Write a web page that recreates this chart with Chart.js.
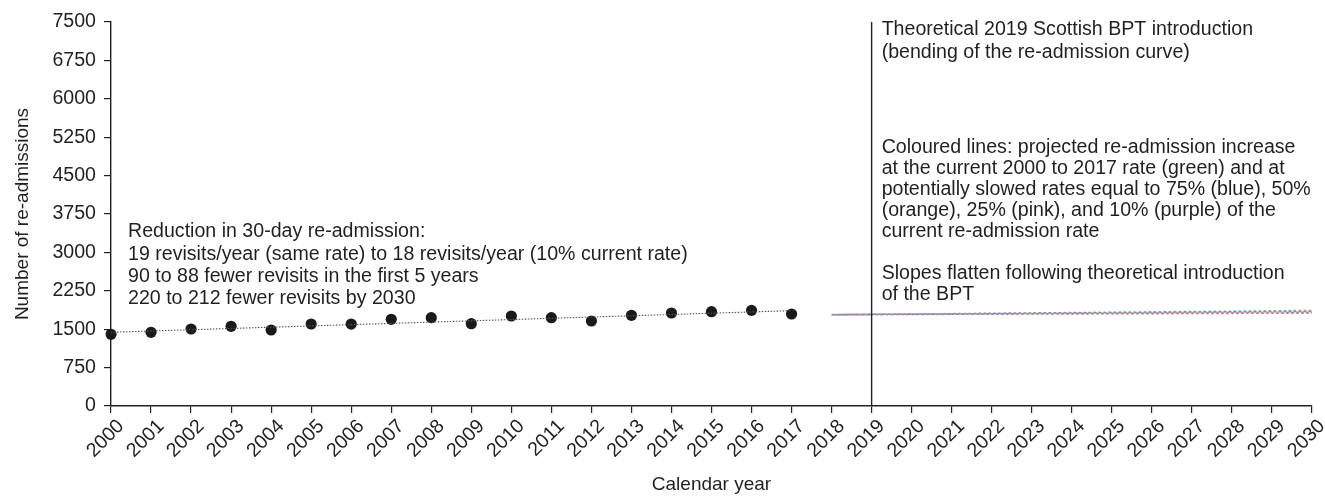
<!DOCTYPE html>
<html>
<head>
<meta charset="utf-8">
<script src="https://cdn.jsdelivr.net/npm/chart.js@4.4.1/dist/chart.umd.min.js"></script>
<style>
  html, body { margin: 0; padding: 0; background: #ffffff; }
  #wrap { width: 1325px; height: 499px; position: relative; }
</style>
</head>
<body>
<div id="wrap"><canvas id="c"></canvas></div>
<script>
// ---- Data ----
const years = ['2000','2001','2002','2003','2004','2005','2006','2007','2008','2009',
               '2010','2011','2012','2013','2014','2015','2016','2017','2018','2019',
               '2020','2021','2022','2023','2024','2025','2026','2027','2028','2029','2030'];
const observed = [1400, 1439, 1504, 1556, 1484, 1602, 1600, 1693, 1725, 1608,
                  1758, 1725, 1660, 1771, 1816, 1842, 1868, 1797];
const trendYears = ['2000', '2017'];
const trendValues = [1440, 1862];
const projYears = ['2018', '2030'];
const projGreen  = [1783, 1866];
const projBlue   = [1783, 1852];
const projOrange = [1786, 1840];
const projPink   = [1783, 1826];
const projPurple = [1783, 1815];
const yTicks = [0, 750, 1500, 2250, 3000, 3750, 4500, 5250, 6000, 6750, 7500];
const interventionYear = '2019';
const leftNote = [
  'Reduction in 30-day re-admission:',
  '19 revisits/year (same rate) to 18 revisits/year (10% current rate)',
  '90 to 88 fewer revisits in the first 5 years',
  '220 to 212 fewer revisits by 2030'
];
const rightNoteTop = [
  'Theoretical 2019 Scottish BPT introduction',
  '(bending of the re-admission curve)'
];
const rightNoteMid = [
  'Coloured lines: projected re-admission increase',
  'at the current 2000 to 2017 rate (green) and at',
  'potentially slowed rates equal to 75% (blue), 50%',
  '(orange), 25% (pink), and 10% (purple) of the',
  'current re-admission rate',
  '',
  'Slopes flatten following theoretical introduction',
  'of the BPT'
];

// ---- helpers to place sparse series on the category axis ----
function sparse(xs, vs) {
  const out = years.map(() => null);
  xs.forEach((x, i) => { out[years.indexOf(x)] = vs[i]; });
  return out;
}

const INK = '#231f20';
const FONT = "'Liberation Sans', Arial, Helvetica, sans-serif";
const FS = 19.6;

const annotations = {
  id: 'annotations',
  afterDatasetsDraw(chart) {
    const { ctx, chartArea, scales } = chart;
    const xs = scales.x, ys = scales.y;
    const vx = xs.getPixelForValue(years.indexOf(interventionYear));
    ctx.save();
    // vertical line at intervention year
    ctx.strokeStyle = INK;
    ctx.lineWidth = 1.4;
    ctx.beginPath();
    ctx.moveTo(vx, chartArea.top);
    ctx.lineTo(vx, chartArea.bottom);
    ctx.stroke();

    ctx.fillStyle = INK;
    ctx.font = FS + 'px ' + FONT;
    ctx.textBaseline = 'middle';
    ctx.textAlign = 'left';
    const lh = 22.2;
    // left note
    const lx = chartArea.left + 17;
    const ly = ys.getPixelForValue(3750) + 18;
    leftNote.forEach((t, i) => ctx.fillText(t, lx, ly + i * lh));
    // right notes
    const rx = vx + 10;
    let ry = chartArea.top + 8;
    rightNoteTop.forEach((t, i) => ctx.fillText(t, rx, ry + i * lh));
    ry = ys.getPixelForValue(5250) + 10;
    rightNoteMid.forEach((t, i) => ctx.fillText(t, rx, ry + i * 21));
    ctx.restore();
  }
};

const projStyle = (color, data, phase) => ({
  type: 'line',
  data: sparse(projYears, data),
  borderColor: color,
  borderWidth: 1.6,
  borderDash: [2, 3],
  borderDashOffset: phase,
  pointRadius: 0,
  spanGaps: true,
  fill: false
});

new Chart(document.getElementById('c'), {
  type: 'line',
  data: {
    labels: years,
    datasets: [
      {
        data: sparse(trendYears, trendValues),
        borderColor: '#555555',
        borderWidth: 1.1,
        borderDash: [1.5, 1.5],
        pointRadius: 0,
        spanGaps: true,
        fill: false
      },
      projStyle('#9b6fc8', projPurple, 0),
      projStyle('#e88fb4', projPink, 1),
      projStyle('#5f8fd4', projBlue, 2),
      projStyle('#6cbb5a', projGreen, 3),
      projStyle('#e39a3e', projOrange, 4),
      {
        data: observed,
        showLine: false,
        pointRadius: 5.6,
        pointHoverRadius: 5.6,
        pointBackgroundColor: '#1a1a1a',
        pointBorderColor: '#1a1a1a',
        pointBorderWidth: 0
      }
    ]
  },
  options: {
    responsive: true,
    maintainAspectRatio: false,
    animation: false,
    events: [],
    layout: { padding: { top: 22, right: 13, left: 0, bottom: 0 } },
    plugins: { legend: { display: false }, tooltip: { enabled: false } },
    scales: {
      x: {
        type: 'category',
        offset: false,
        grid: { display: true, drawOnChartArea: false, drawTicks: true, tickLength: 7, color: INK, lineWidth: 1.2 },
        border: { display: true, color: INK, width: 1.4 },
        ticks: {
          autoSkip: false, maxRotation: 45, minRotation: 45, padding: 2, labelOffset: 10,
          color: INK, font: { family: FONT, size: FS }
        },
        title: {
          display: true, text: 'Calendar year', color: INK,
          font: { family: FONT, size: 19 }, padding: { top: 0, bottom: 3 }
        },
        afterFit(scale) { scale.height = 93; scale.paddingRight = 0; scale.paddingLeft = 0; }
      },
      y: {
        min: 0, max: 7500,
        afterBuildTicks(scale) { scale.ticks = yTicks.map(v => ({ value: v })); },
        grid: { display: true, drawOnChartArea: false, drawTicks: true, tickLength: 7, color: INK, lineWidth: 1.2 },
        border: { display: true, color: INK, width: 1.4 },
        ticks: { padding: 8, color: INK, font: { family: FONT, size: FS }, callback: v => String(v) },
        title: {
          display: true, text: 'Number of re-admissions', color: INK,
          font: { family: FONT, size: 19 }, padding: { top: 11, bottom: 0 }
        },
        afterFit(scale) { scale.width = 111; }
      }
    }
  },
  plugins: [annotations]
});
</script>
</body>
</html>
